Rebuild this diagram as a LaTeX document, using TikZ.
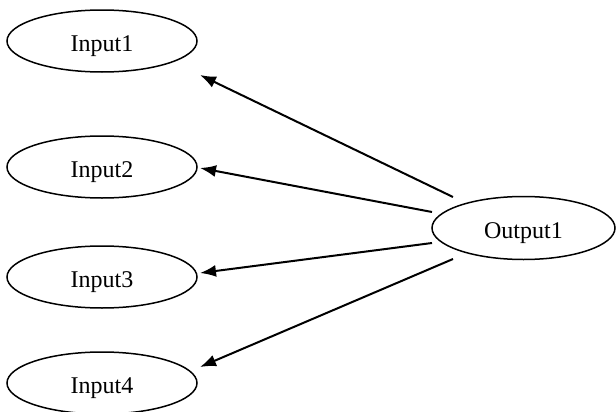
\documentclass[tikz,border=0pt]{standalone}
\usepackage{fontspec}
\setmainfont{Liberation Serif}
\usetikzlibrary{arrows.meta,shapes.geometric}

\begin{document}
\begin{tikzpicture}[
    x=0.5pt,y=-0.5pt,
    var/.style={ellipse,draw,line width=0.75pt,inner sep=0pt,
      minimum width=95pt,minimum height=31pt,
      text height=1.25em,text depth=.25em,font=\fontsize{12}{14}\selectfont},
    arr/.style={-{Latex[length=8pt,width=6pt]},line width=1pt}
  ]
    \useasboundingbox (0,0) rectangle (616,412);
    % inputs on the left, one output on the right
    \node[var] (in1) at (102,41) {Input1};
    \node[var] (in2) at (102,167) {Input2};
    \node[var] (in3) at (102,277) {Input3};
    \node[var] (in4) at (102,383) {Input4};
    \node[var,minimum width=91.5pt,minimum height=31.5pt] (out) at (523.5,228) {Output1};
    \draw[arr] ([shift={(-70.5,-31)}]out.center) -- ([shift={(98,34)}]in1.center);
    \draw[arr] ([shift={(-91.5,-16)}]out.center) -- ([shift={(98,1)}]in2.center);
    \draw[arr] ([shift={(-91.5,15)}]out.center) -- ([shift={(98,-4)}]in3.center);
    \draw[arr] ([shift={(-70.5,31)}]out.center) -- ([shift={(98,-16)}]in4.center);
  \end{tikzpicture}
\end{document}
